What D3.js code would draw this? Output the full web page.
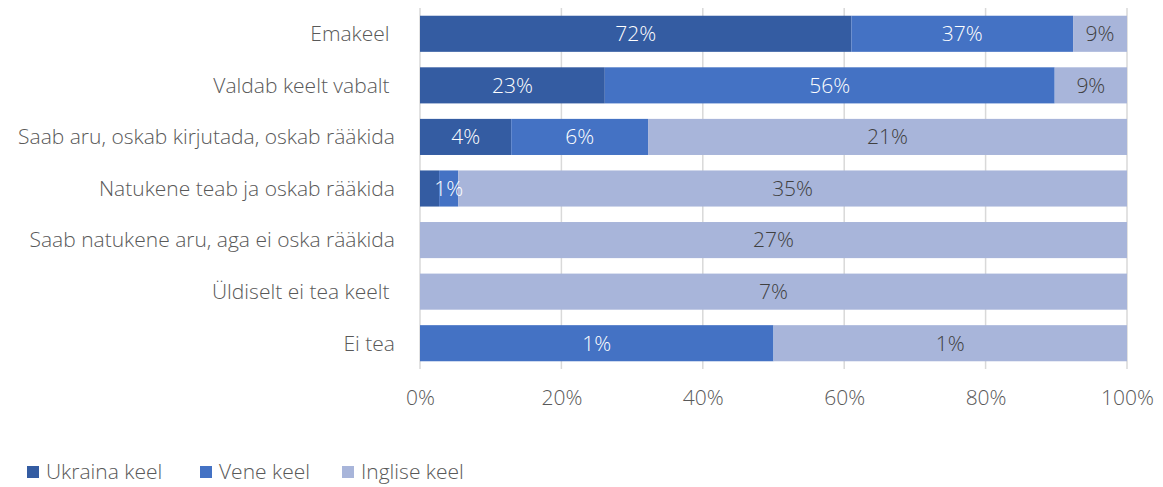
<!DOCTYPE html>
<html>
<head>
<meta charset="utf-8">
<script src="https://cdn.jsdelivr.net/npm/d3@7"></script>
<style>
  html, body { margin: 0; padding: 0; background: #fff; }
  svg text { font-family: "Open Sans", "Noto Sans", sans-serif; font-weight: 300; white-space: pre; }
</style>
</head>
<body>
<svg id="chart" width="1163" height="487"></svg>
<script>
// Language skill levels (rows) and share of respondents per language
const categories = [
  "Emakeel ",
  "Valdab keelt vabalt ",
  "Saab aru, oskab kirjutada, oskab rääkida",
  "Natukene teab ja oskab rääkida",
  "Saab natukene aru, aga ei oska rääkida",
  "Üldiselt ei tea keelt ",
  "Ei tea"
];
const seriesNames = ["Ukraina keel", "Vene keel", "Inglise keel"];
const ukraina = [72, 23, 4, 1, 0, 0, 0];
const vene    = [37, 56, 6, 1, 0, 0, 1];
const inglise = [9, 9, 21, 35, 27, 7, 1];
// labels suppressed where they would collide with a neighbour
const hiddenLabels = [{ series: 0, row: 3 }];
const tickValues = [0, 0.2, 0.4, 0.6, 0.8, 1];

const colors = ["#345ca2", "#4472c4", "#a8b5da"];
const labelColors = ["#ffffff", "#ffffff", "#404040"];
const FS = 21;

const svg = d3.select("#chart");
const margin = { left: 420, right: 36, top: 8, bottom: 118 };
const W = 1163, H = 487;

const rows = categories.map((c, i) => ({ cat: c, v: [ukraina[i], vene[i], inglise[i]] }));
rows.forEach(r => {
  const total = d3.sum(r.v);
  let acc = 0;
  r.segs = r.v.map((v, k) => {
    const s = { k, v, x0: acc / total, x1: (acc + v) / total };
    acc += v;
    return s;
  });
});

const x = d3.scaleLinear().domain([0, 1]).range([margin.left, W - margin.right]);
const y = d3.scaleBand().domain(categories).range([margin.top, H - margin.bottom]).paddingInner(0.3).paddingOuter(0.15);

// vertical gridlines
svg.append("g").selectAll("line").data(tickValues).join("line")
  .attr("x1", d => x(d)).attr("x2", d => x(d))
  .attr("y1", margin.top).attr("y2", H - margin.bottom)
  .attr("stroke", "#d9d9d9").attr("stroke-width", 1.5);

// stacked bars
const rowG = svg.append("g").selectAll("g").data(rows).join("g")
  .attr("transform", d => `translate(0,${y(d.cat)})`);

rowG.selectAll("rect").data(d => d.segs.filter(s => s.v > 0)).join("rect")
  .attr("x", s => x(s.x0))
  .attr("width", s => x(s.x1) - x(s.x0))
  .attr("y", 0)
  .attr("height", y.bandwidth())
  .attr("fill", s => colors[s.k]);

rowG.each(function (d, i) {
  d3.select(this).selectAll("text.val")
    .data(d.segs.filter(s => s.v > 0 && !hiddenLabels.some(h => h.series === s.k && h.row === i)))
    .join("text")
    .attr("class", "val")
    .attr("x", s => (x(s.x0) + x(s.x1)) / 2)
    .attr("y", y.bandwidth() / 2)
    .attr("dy", "0.35em")
    .attr("text-anchor", "middle")
    .attr("font-size", FS)
    .attr("fill", s => labelColors[s.k])
    .text(s => s.v + "%");
});

// category axis labels
svg.append("g").selectAll("text").data(categories).join("text")
  .attr("x", 395)
  .attr("y", d => y(d) + y.bandwidth() / 2)
  .attr("dy", "0.35em")
  .attr("text-anchor", "end")
  .attr("font-size", FS)
  .attr("fill", "#595959")
  .text(d => d);

// percentage axis
const xAxis = d3.axisBottom(x).tickValues(tickValues).tickFormat(d3.format(".0%")).tickSize(0).tickPadding(0);
const axG = svg.append("g").attr("transform", `translate(0,${H - margin.bottom})`).call(xAxis);
axG.select(".domain").remove();
axG.selectAll("text")
  .attr("y", 36)
  .attr("dy", "0")
  .attr("font-size", FS)
  .attr("font-family", "'Open Sans', 'Noto Sans', sans-serif")
  .attr("fill", "#595959");

// legend
const legendX = [27, 200, 342];
const lg = svg.append("g").selectAll("g").data(seriesNames).join("g")
  .attr("transform", (d, i) => `translate(${legendX[i]},472)`);
lg.append("rect").attr("x", 0).attr("y", -6).attr("width", 12).attr("height", 12)
  .attr("fill", (d, i) => colors[i]);
lg.append("text").attr("x", 19).attr("y", 0).attr("dy", "0.35em")
  .attr("font-size", FS).attr("fill", "#595959").text(d => d);
</script>
</body>
</html>
